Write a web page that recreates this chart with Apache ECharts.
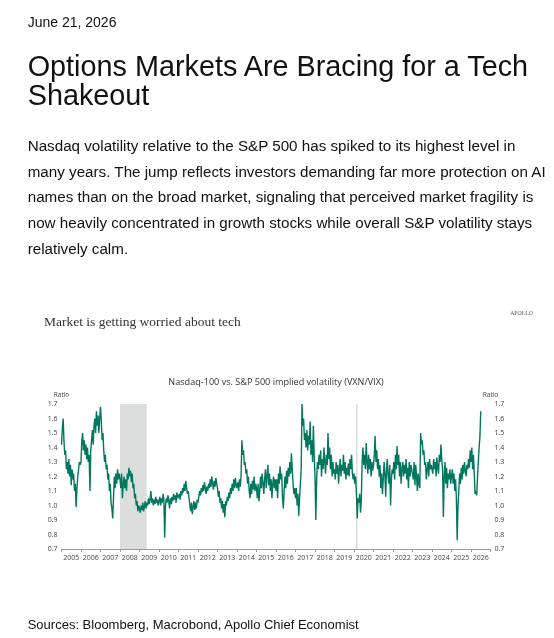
<!DOCTYPE html>
<html><head><meta charset="utf-8">
<script src="https://cdn.jsdelivr.net/npm/echarts@6/dist/echarts.min.js"></script>
<style>
html,body{margin:0;padding:0;background:#fff;width:554px;height:638px;overflow:hidden;}
#chart{position:absolute;left:0;top:0;width:554px;height:638px;}
.t{position:absolute;left:27.7px;font-family:"Liberation Sans",Arial,Helvetica,sans-serif;color:#111;white-space:nowrap;margin:0;}
</style></head><body>
<div id="chart"></div>
<div class="t" style="top:15px;font-size:14px;line-height:14px;">June 21, 2026</div>
<div class="t" style="top:51.6px;font-size:28.8px;line-height:29.5px;">Options Markets Are Bracing for a Tech<br>Shakeout</div>
<div class="t" style="top:133px;font-size:15.2px;line-height:25.7px;">Nasdaq volatility relative to the S&amp;P 500 has spiked to its highest level in<br>many years. The jump reflects investors demanding far more protection on AI<br>names than on the broad market, signaling that perceived market fragility is<br>now heavily concentrated in growth stocks while overall S&amp;P volatility stays<br>relatively calm.</div>
<div class="t" style="top:618px;font-size:13px;line-height:13px;">Sources: Bloomberg, Macrobond, Apollo Chief Economist</div>
<script>
// VXN/VIX ratio, semi-monthly readings per calendar year
const ratio2005 = [1.42,1.52,1.60,1.45,1.35,1.38,1.25,1.30,1.22,1.32,1.20,1.28,1.14,1.25,1.18,1.22,1.10,1.15,0.99,1.12,1.20,1.25,1.30,1.28];
const ratio2006 = [1.30,1.45,1.50,1.38,1.45,1.35,1.42,1.32,1.40,1.30,1.35,1.10,1.38,1.45,1.52,1.42,1.55,1.60,1.50,1.65,1.55,1.62,1.50,1.60];
const ratio2007 = [1.68,1.58,1.45,1.50,1.38,1.30,1.35,1.25,1.28,1.18,1.22,1.10,1.15,1.02,0.98,0.91,1.05,1.20,1.12,1.22,1.15,1.25,1.18,1.22];
const ratio2008 = [1.18,1.12,1.22,1.05,1.15,1.20,1.12,1.18,1.10,1.22,1.18,1.26,1.20,1.24,1.16,1.22,1.12,1.15,1.05,1.08,1.00,1.03,0.96,1.00];
const ratio2009 = [0.98,0.95,1.00,0.97,1.02,0.96,0.99,1.03,0.98,1.02,1.00,1.05,1.01,1.04,1.10,1.02,1.05,1.00,1.04,1.01,1.06,1.02,1.04,1.00];
const ratio2010 = [1.03,1.06,1.00,1.05,1.02,1.08,1.04,0.78,1.00,1.05,1.02,1.07,1.03,0.98,1.05,1.01,1.06,1.03,1.08,1.04,1.07,1.02,1.09,1.05];
const ratio2011 = [1.05,1.08,1.04,1.10,1.07,1.12,1.09,1.15,1.10,1.17,1.12,1.08,1.10,1.05,1.00,0.96,1.02,0.94,0.99,1.03,0.97,1.02,0.98,1.04];
const ratio2012 = [1.02,1.06,1.10,1.07,1.12,1.09,1.14,1.10,1.16,1.12,1.08,1.13,1.10,1.15,1.12,1.18,1.13,1.20,1.15,1.11,1.17,1.13,1.19,1.15];
const ratio2013 = [1.12,1.06,1.10,1.02,1.05,0.98,1.03,0.95,1.01,0.92,1.03,1.00,1.06,1.03,1.09,1.05,1.12,1.08,1.15,1.10,1.18,1.12,1.19,1.14];
const ratio2014 = [1.12,1.16,1.10,1.18,1.13,1.20,1.45,1.35,1.38,1.28,1.30,1.22,1.25,1.15,1.20,1.10,1.05,1.15,1.08,1.17,1.11,1.20,1.10,1.15];
const ratio2015 = [1.12,1.05,1.15,1.03,1.10,1.20,1.12,1.22,1.15,1.08,1.18,1.25,1.12,1.20,1.28,1.14,1.22,1.10,1.18,1.05,1.15,1.20,1.12,1.18];
const ratio2016 = [1.10,1.18,1.05,1.22,1.15,1.27,1.18,1.22,1.05,0.98,1.10,1.20,1.12,1.24,1.15,1.26,1.20,1.30,1.22,1.36,1.25,1.15,1.08,1.12];
const ratio2017 = [1.05,1.12,1.00,1.08,0.93,1.05,1.15,1.25,1.70,1.55,1.60,1.45,1.50,1.40,1.52,1.38,1.48,1.42,1.58,1.35,1.45,1.30,1.55,1.35];
const ratio2018 = [1.20,0.90,1.18,1.30,1.25,1.35,1.28,1.38,1.20,1.32,1.25,1.40,1.30,1.22,1.35,1.28,1.50,1.32,1.40,1.25,1.35,1.20,1.30,1.22];
const ratio2019 = [1.25,1.18,1.30,1.22,1.28,1.15,1.25,1.32,1.20,1.28,1.24,1.35,1.22,1.30,1.18,1.26,1.21,1.29,1.20,1.32,1.25,1.35,1.22,1.18];
const ratio2020 = [1.22,1.15,1.20,1.08,0.91,1.05,1.02,1.08,0.95,1.04,1.30,1.40,1.28,1.35,1.25,1.43,1.30,1.22,1.35,1.25,1.32,1.20,1.30,1.24];
const ratio2021 = [1.28,1.35,1.48,1.30,1.38,1.25,1.32,1.20,1.28,1.12,1.22,1.08,1.18,1.30,1.22,1.06,1.25,1.32,1.20,1.15,1.28,1.00,1.18,1.25];
const ratio2022 = [1.22,1.30,1.18,1.35,1.25,1.41,1.28,1.35,1.20,1.30,1.15,1.25,1.30,1.20,1.28,1.22,1.32,1.18,1.26,1.12,1.30,1.20,1.28,1.25];
const ratio2023 = [1.25,1.18,1.30,1.14,1.28,1.20,1.10,1.22,1.15,1.12,1.50,1.42,1.45,1.35,1.38,1.28,1.30,1.18,1.25,1.30,1.20,1.32,1.25,1.28];
const ratio2024 = [1.28,1.22,1.32,1.25,1.30,1.20,1.33,1.26,1.22,1.35,1.30,1.42,1.32,1.25,0.92,1.20,1.30,1.15,1.26,1.12,1.22,1.18,1.25,1.15];
const ratio2025 = [1.20,1.25,1.15,1.22,1.10,1.18,1.05,0.76,1.00,1.10,1.22,1.15,1.26,1.18,1.28,1.22,1.30,1.24,1.20,1.28,1.25,1.32,1.26,1.38];
const ratio2026 = [1.30,1.40,1.25,1.35,1.22,1.08,1.10,1.07,1.20,1.30,1.40,1.48,1.65];

const yearList = [2005,2006,2007,2008,2009,2010,2011,2012,2013,2014,2015,2016,2017,2018,2019,2020,2021,2022,2023,2024,2025,2026];
const yearValues = [ratio2005,ratio2006,ratio2007,ratio2008,ratio2009,ratio2010,ratio2011,ratio2012,ratio2013,ratio2014,ratio2015,ratio2016,ratio2017,ratio2018,ratio2019,ratio2020,ratio2021,ratio2022,ratio2023,ratio2024,ratio2025,ratio2026];
const readingsPerYear = 24;

const recessions = [[2008.0, 2009.37], [2020.1, 2020.18]];

const points = [];
yearList.forEach((yr, k) => {
  yearValues[k].forEach((v, i) => points.push([yr + i / readingsPerYear, v]));
});

const axisFont = '"Open Sans","Noto Sans",sans-serif';
const labelColor = '#444';

const chart = echarts.init(document.getElementById('chart'), null, {renderer: 'canvas'});
const yAxisBase = (pos) => ({
  type: 'value', min: 0.7, max: 1.7, interval: 0.1, position: pos,
  name: 'Ratio', nameLocation: 'end', nameGap: 5,
  nameTextStyle: {fontSize: 6.5, color: labelColor, fontFamily: axisFont, align: 'center'},
  axisLine: {show: false}, axisTick: {show: false}, splitLine: {show: false},
  axisLabel: {margin: 4, fontSize: 7, color: labelColor, fontFamily: axisFont,
    formatter: v => v.toFixed(1)}
});

chart.setOption({
  animation: false,
  backgroundColor: 'transparent',
  grid: {left: 61.5, right: 63.5, top: 404, bottom: 89, containLabel: false, outerBoundsMode: 'none'},
  graphic: [
    {type: 'text', x: 44, y: 322.7, style: {text: 'Market is getting worried about tech', font: '13.5px "Liberation Serif", serif', fill: '#333', align: 'left', verticalAlign: 'middle'}},
    {type: 'text', x: 533, y: 313.5, style: {text: 'APOLLO', font: '5.8px "Liberation Serif", serif', fill: '#555', align: 'right', verticalAlign: 'middle'}},
    {type: 'text', x: 276, y: 382, style: {text: 'Nasdaq-100 vs. S&P 500 implied volatility (VXN/VIX)', font: '9.1px ' + axisFont, fill: '#333', align: 'center', verticalAlign: 'middle'}}
  ],
  xAxis: {
    type: 'value', min: 2005, max: 2027, interval: 1,
    axisLine: {show: true, lineStyle: {color: '#9a9a9a', width: 1}},
    axisTick: {show: true, length: 3, lineStyle: {color: '#9a9a9a'}},
    splitLine: {show: false},
    axisLabel: {margin: 5, fontSize: 7, color: labelColor, fontFamily: axisFont,
      padding: [0, 0, 0, 19.5], showMinLabel: true, showMaxLabel: true, hideOverlap: false,
      formatter: v => (v < 2027 ? String(v) : '')}
  },
  yAxis: [yAxisBase('left'), yAxisBase('right')],
  series: [
    {
      type: 'line', data: [], z: 1, silent: true,
      markArea: {silent: true, itemStyle: {color: '#dcdddd'},
        data: recessions.map(r => [{xAxis: r[0]}, {xAxis: r[1]}])}
    },
    {
      type: 'line', data: points, z: 3, showSymbol: false, sampling: 'none',
      lineStyle: {color: '#00775e', width: 1.4}, itemStyle: {color: '#00775e'}
    }
  ]
});
</script>
</body></html>
